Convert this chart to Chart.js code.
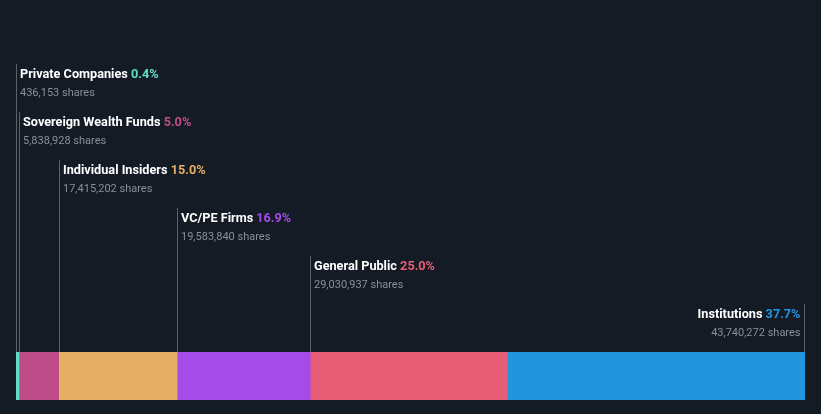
<!DOCTYPE html>
<html>
<head>
<meta charset="utf-8">
<script src="https://cdn.jsdelivr.net/npm/chart.js@4/dist/chart.umd.min.js"></script>
<style>
  html, body { margin: 0; padding: 0; background: #151b24; }
  canvas { display: block; }
</style>
</head>
<body>
<canvas id="c" width="821" height="414"></canvas>
<script>
const categories = ["Private Companies", "Sovereign Wealth Funds", "Individual Insiders", "VC/PE Firms", "General Public", "Institutions"];
const shares = [436153, 5838928, 17415202, 19583840, 29030937, 43740272];
const percentLabels = ["0.4%", "5.0%", "15.0%", "16.9%", "25.0%", "37.7%"];
const shareLabels = ["436,153 shares", "5,838,928 shares", "17,415,202 shares", "19,583,840 shares", "29,030,937 shares", "43,740,272 shares"];
const colors = ["#5ee0c8", "#bd4c89", "#e5b066", "#a54ce8", "#e75d76", "#2394de"];

const total = shares.reduce((a, b) => a + b, 0);

const labelPlugin = {
  id: 'ownershipLabels',
  afterDatasetsDraw(chart) {
    const ctx = chart.ctx;
    const xs = chart.scales.x;
    const area = chart.chartArea;
    const n = categories.length;
    let cum = 0;
    ctx.save();
    for (let i = 0; i < n; i++) {
      const start = cum;
      cum += shares[i];
      const last = i === n - 1;
      let px = xs.getPixelForValue(last ? cum : start);
      px = last ? Math.round(px) - 0.5 : Math.round(px) + 0.5;
      const top = area.top - 48 * (n - i);
      ctx.strokeStyle = '#5c626b';
      ctx.lineWidth = 1;
      ctx.beginPath();
      ctx.moveTo(px, top);
      ctx.lineTo(px, area.top);
      ctx.stroke();

      ctx.textBaseline = 'alphabetic';
      ctx.font = 'bold 12.7px Roboto';
      const title = categories[i] + ' ';
      const pct = percentLabels[i];
      const wTitle = ctx.measureText(title).width;
      const wPct = ctx.measureText(pct).width;
      let tx;
      if (last) {
        tx = px - 4 - wTitle - wPct;
      } else {
        tx = px + 3.5;
      }
      ctx.fillStyle = '#ffffff';
      ctx.textAlign = 'left';
      ctx.fillText(title, tx, top + 14);
      ctx.fillStyle = colors[i];
      ctx.fillText(pct, tx + wTitle, top + 14);

      ctx.font = '11px Roboto';
      ctx.fillStyle = '#8b8f96';
      if (last) {
        ctx.textAlign = 'right';
        ctx.fillText(shareLabels[i], px - 4, top + 32);
      } else {
        ctx.textAlign = 'left';
        ctx.fillText(shareLabels[i], tx, top + 32);
      }
    }
    ctx.restore();
  }
};

new Chart(document.getElementById('c'), {
  type: 'bar',
  data: {
    labels: ['Ownership'],
    datasets: categories.map((name, i) => ({
      label: name,
      data: [shares[i]],
      backgroundColor: colors[i],
      borderWidth: 0,
      barPercentage: 1,
      categoryPercentage: 1
    }))
  },
  options: {
    indexAxis: 'y',
    responsive: false,
    animation: false,
    layout: { padding: { left: 16, right: 16, top: 352, bottom: 14 } },
    scales: {
      x: { stacked: true, display: false, min: 0, max: total },
      y: { stacked: true, display: false }
    },
    plugins: {
      legend: { display: false },
      tooltip: { enabled: false }
    }
  },
  plugins: [labelPlugin]
});
</script>
</body>
</html>
